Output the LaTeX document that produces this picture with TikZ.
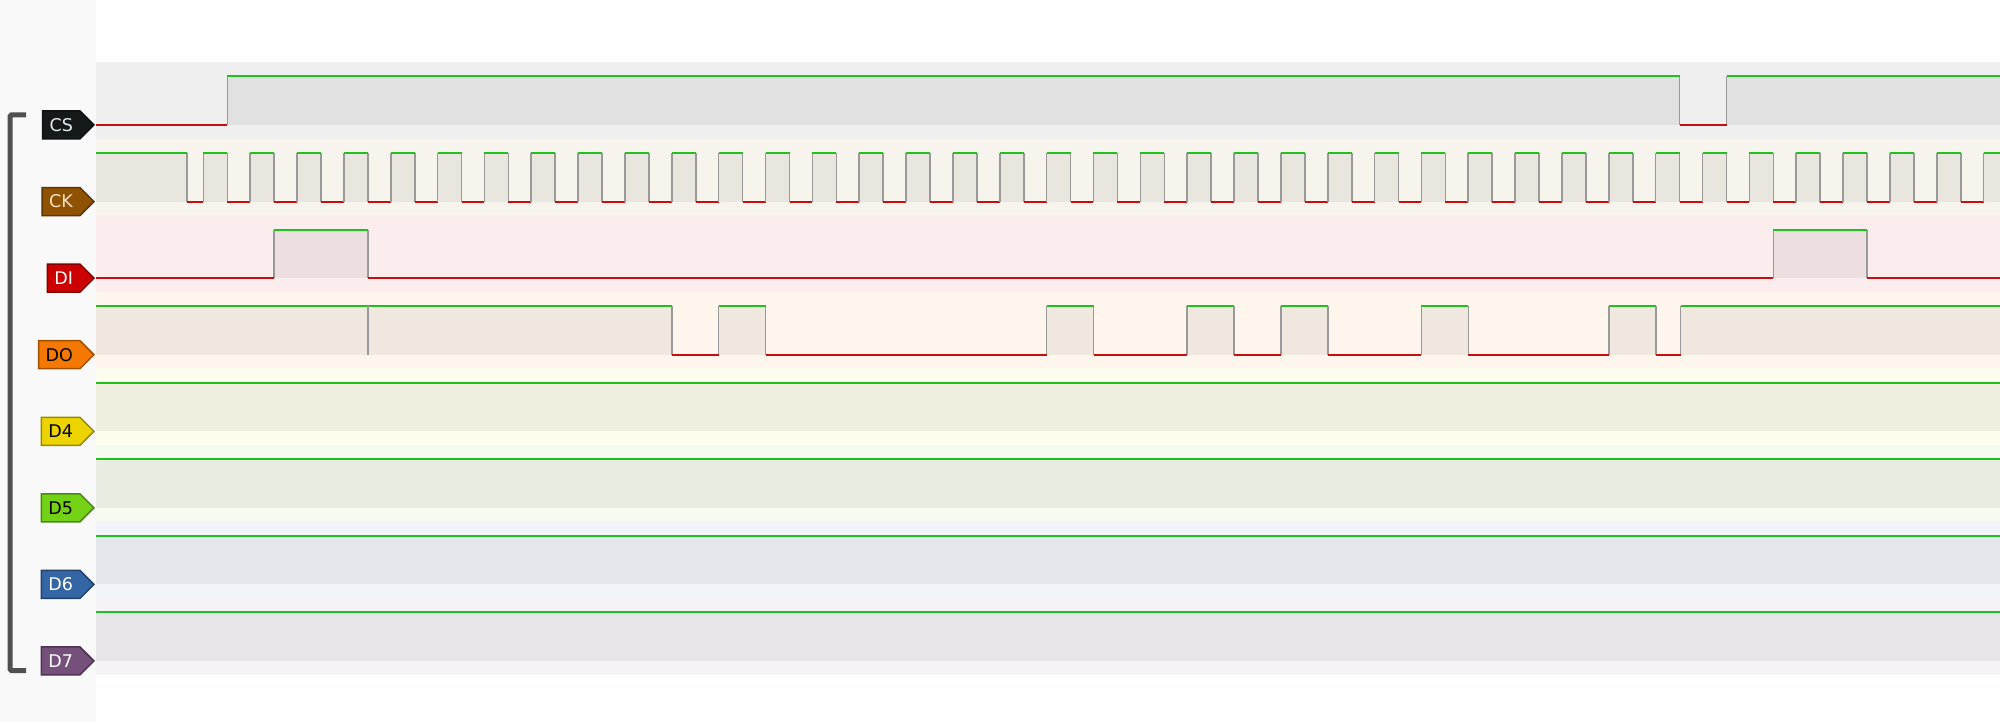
\documentclass[tikz,border=0pt]{standalone}
\usepackage{fontspec}
\usetikzlibrary{shapes.symbols}
\newfontfamily\lblfont{DejaVu Sans}

\definecolor{pvCS}{HTML}{16191A}
\definecolor{pvCK}{HTML}{8F5202}
\definecolor{pvDI}{HTML}{CC0000}
\definecolor{pvDO}{HTML}{F57900}
\definecolor{pvDfour}{HTML}{EDD400}
\definecolor{pvDfive}{HTML}{73D216}
\definecolor{pvDsix}{HTML}{3465A4}
\definecolor{pvDseven}{HTML}{75507B}
\definecolor{pvCStext}{HTML}{E2EAF2}
\definecolor{pvCKtext}{HTML}{F8E2C4}
\definecolor{pvhigh}{HTML}{1FC11F}
\definecolor{pvlow}{HTML}{C41010}
\definecolor{pvedge}{HTML}{999999}
\definecolor{pvpanel}{HTML}{F9F9F9}
\definecolor{pvbracket}{HTML}{505050}

% #1 high level, #2 low level, #3 from, #4 to
\newcommand{\highseg}[4]{%
  \fill[hifill] (#3,#1) rectangle (#4,#2);
  \draw[edge] (#3,#1) -- (#3,#2) (#4,#1) -- (#4,#2);
  \draw[hi] (#3,#1) -- (#4,#1);}
% #1 low level, #2 from, #3 to
\newcommand{\lowseg}[3]{\draw[lo] (#2,#1) -- (#3,#1);}

\begin{document}
\begin{tikzpicture}
                \tikzset{x=1pt, y=-1pt}
                \tikzstyle{hi}=[draw=pvhigh, line width=2pt]
                \tikzstyle{lo}=[draw=pvlow, line width=2pt]
                \tikzstyle{edge}=[draw=pvedge, line width=1.6pt]
                \tikzstyle{hifill}=[fill=black, fill opacity=0.055]
                \tikzstyle{lbl}=[signal, signal to=east, signal pointer angle=90, anchor=east,
                                 minimum height=28pt, inner xsep=7pt, inner ysep=0pt, line width=1.5pt,
                                 font=\lblfont\fontsize{17.5}{18}\selectfont]

                \useasboundingbox (0,0) rectangle (2000,722);
                \fill[white] (0,0) rectangle (2000,722);

                % side panel
                \fill[pvpanel] (0,0) rectangle (96,722);
                \draw[line width=5pt, draw=pvbracket, rounded corners=1.5pt]
                                    (26,115) -- (10,115) -- (10,670.5) -- (26,670.5);

                % rows and channel labels
                \foreach \name/\col/\txt [count=\i from 0] in {CS/pvCS/pvCStext, CK/pvCK/pvCKtext,
                        DI/pvDI/white, DO/pvDO/black, D4/pvDfour/black, D5/pvDfive/black,
                        D6/pvDsix/white, D7/pvDseven/white} {
                    \pgfmathsetmacro{\yc}{125+76.57*\i}
                    \fill[\col!7!white] (96,\yc-63) rectangle (2000,\yc+13.57);
                    \draw (95,\yc)  node[lbl, fill=\col, draw=\col!65!black, text=\txt]  (\name)  {\name};
                }

                \begin{scope}
                \clip (96,0) rectangle (2000,722);

                % CS
                \highseg{76.5}{125}{227.3}{1679.6}
                \highseg{76.5}{125}{1726.5}{2002}
                \lowseg{125}{94}{227.3}
                \lowseg{125}{1679.6}{1726.5}

                % CK
                \highseg{153.07}{201.57}{94}{187}
                \lowseg{201.57}{187}{203.3}
                \foreach \n in {0,...,38} {
                    \pgfmathsetmacro{\xr}{203.3+46.85*\n}
                    \pgfmathsetmacro{\xf}{\xr+24}
                    \pgfmathsetmacro{\xn}{\xr+46.85}
                    \highseg{153.07}{201.57}{\xr}{\xf}
                    \lowseg{201.57}{\xf}{\xn}
                }

                % DI
                \foreach \a/\b in {274.2/367.9, 1773.3/1867}
                    {\highseg{229.64}{278.14}{\a}{\b}}
                \foreach \a/\b in {94/274.2, 367.9/1773.3, 1867/2002}
                    {\lowseg{278.14}{\a}{\b}}

                % DO
                \foreach \a/\b in {94/671.8, 718.6/765.5, 1046.6/1093.5, 1187.2/1234,
                                   1280.9/1327.7, 1421.4/1468.3, 1608.8/1655.7, 1680.5/2002}
                    {\highseg{306.21}{354.71}{\a}{\b}}
                \foreach \a/\b in {671.8/718.6, 765.5/1046.6, 1093.5/1187.2, 1234/1280.9,
                                   1327.7/1421.4, 1468.3/1608.8, 1655.7/1680.5}
                    {\lowseg{354.71}{\a}{\b}}
                \draw[edge]         (367.9,306.21) -- (367.9,354.71);

                % D4 to D7, steady high
                \foreach \i in {4,...,7} {
                    \pgfmathsetmacro{\yc}{125+76.57*\i}
                    \highseg{\yc-48.5}{\yc}{94}{2002}
                }
                \end{scope}
\end{tikzpicture}
\end{document}
